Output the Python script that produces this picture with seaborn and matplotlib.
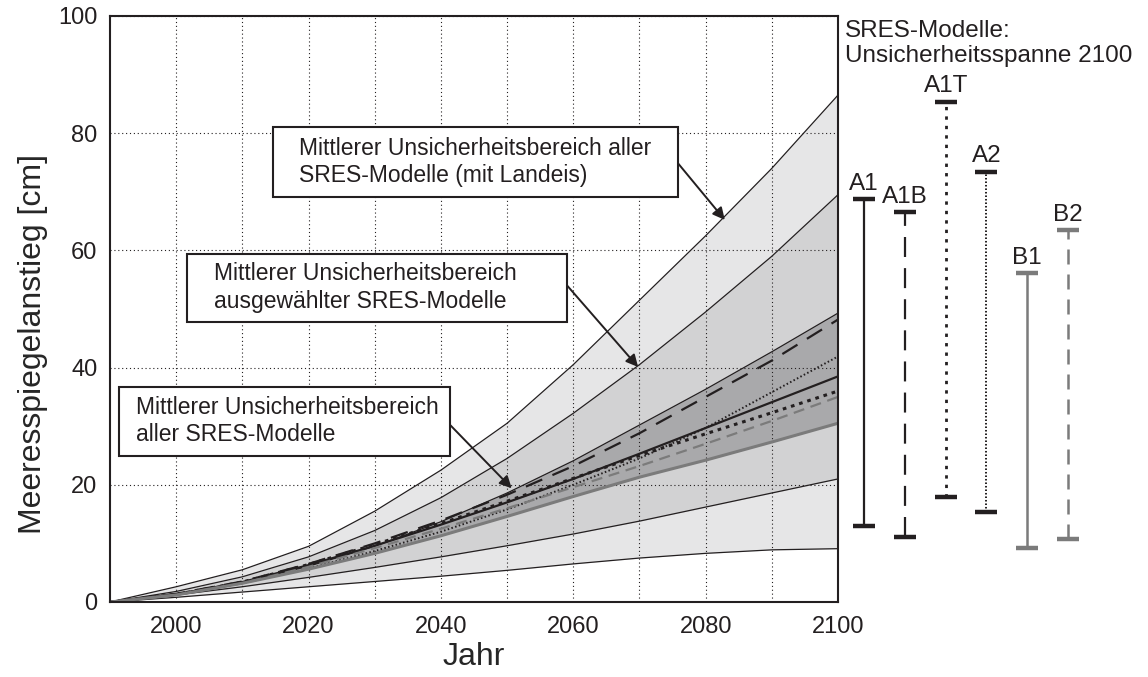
import matplotlib
matplotlib.use('Agg')
import matplotlib.pyplot as plt
import seaborn as sns
from matplotlib.patches import Rectangle

years = [1990, 2000, 2010, 2020, 2030, 2040, 2050, 2060, 2070, 2080, 2090, 2100]

# Baender (untere / obere Grenze)
landeis_lo = [0, 0.8, 1.7, 2.6, 3.5, 4.4, 5.4, 6.5, 7.5, 8.3, 8.9, 9.1]
landeis_hi = [0, 2.6, 5.5, 9.5, 15.5, 22.5, 30.5, 40.5, 51.5, 62.5, 74.0, 86.5]
auswahl_lo = [0, 1.2, 2.6, 4.2, 5.9, 7.7, 9.6, 11.6, 13.8, 16.2, 18.6, 21.0]
auswahl_hi = [0, 1.8, 4.3, 7.7, 12.2, 17.8, 24.5, 32.2, 40.5, 49.5, 59.0, 69.5]
alle_lo = [0, 1.2, 3.2, 5.6, 8.3, 11.3, 14.6, 18.0, 21.3, 24.2, 27.3, 30.5]
alle_hi = [0, 1.4, 3.4, 6.1, 9.5, 13.7, 18.6, 24.1, 30.2, 36.3, 42.7, 49.3]

# Einzelne Szenarien
a1 = [0, 1.3, 3.4, 6.3, 9.6, 13.2, 17.0, 21.0, 25.3, 29.7, 34.1, 38.5]
a1b = [0, 1.4, 3.5, 6.5, 10.0, 13.9, 18.3, 23.2, 28.8, 35.0, 41.2, 48.2]
a1t = [0, 1.3, 3.4, 6.4, 9.8, 13.4, 17.2, 21.1, 25.0, 28.7, 32.3, 36.0]
a2 = [0, 1.3, 3.2, 5.7, 8.7, 12.0, 15.8, 20.0, 24.5, 29.7, 35.8, 41.9]
b1 = alle_lo
b2 = [0, 1.2, 3.2, 6.0, 9.2, 12.5, 16.0, 19.6, 23.2, 27.0, 30.9, 35.0]

# Unsicherheitsspanne 2100
scenarios = ['A1', 'A1B', 'A1T', 'A2', 'B1', 'B2']
span_lo = [13.0, 11.1, 18.0, 15.4, 9.3, 10.8]
span_hi = [68.7, 66.5, 85.4, 73.4, 56.1, 63.4]

dark = '#231f20'
grey = '#7b7b7b'

sns.set_theme(style='white')
plt.rcParams['font.family'] = ['Liberation Sans', 'DejaVu Sans']
plt.rcParams['text.color'] = dark

fig = plt.figure(figsize=(11.48, 6.77), dpi=100)
ax = fig.add_axes([110 / 1148, 75 / 677, 728 / 1148, 586 / 677])

# Baender
ax.fill_between(years, landeis_lo, landeis_hi, color='#e6e6e7', lw=0, zorder=1)
ax.fill_between(years, auswahl_lo, auswahl_hi, color='#d2d2d3', lw=0, zorder=1.1)
ax.fill_between(years, alle_lo, alle_hi, color='#a9a9ab', lw=0, zorder=1.2)
for edge in [landeis_lo, landeis_hi, auswahl_lo, auswahl_hi, alle_hi]:
    sns.lineplot(x=years, y=edge, ax=ax, color=dark, lw=0.9, zorder=3)

# Szenarien
styles = {
    'A1': (a1, dark, '-', 1.6),
    'A1B': (a1b, dark, (0, (8, 5)), 1.6),
    'A1T': (a1t, dark, (0, (1.2, 1.6)), 2.2),
    'A2': (a2, dark, (0, (0.8, 1.2)), 1.4),
    'B1': (b1, grey, '-', 2.2),
    'B2': (b2, grey, (0, (5, 3)), 1.6),
}
for name, (vals, col, ls, lw) in styles.items():
    sns.lineplot(x=years, y=vals, ax=ax, color=col, linestyle=ls, lw=lw, zorder=4)

ax.set_xlim(1990, 2100)
ax.set_ylim(0, 100)
xt = list(range(2000, 2101, 10))
ax.set_xticks(xt)
ax.set_xticklabels([str(t) if t % 20 == 0 else '' for t in xt])
ax.set_yticks(range(0, 101, 20))
ax.grid(True, color=dark, linestyle=(0, (1, 2.5)), lw=0.8)
ax.set_axisbelow(False)
ax.tick_params(length=0, labelsize=17, colors=dark)
ax.tick_params(axis='x', pad=10)
ax.tick_params(axis='y', pad=9)
for sp in ax.spines.values():
    sp.set_visible(True)
    sp.set_color(dark)
    sp.set_linewidth(1.5)
    sp.set_zorder(6)
ax.set_xlabel('Jahr', fontsize=23)
ax.set_ylabel('Meeresspiegelanstieg [cm]', fontsize=23)
ax.xaxis.set_label_coords(0.5, -0.068)
ax.yaxis.set_label_coords(-0.085, 0.44)

# Beschriftungskaesten mit Pfeilen
arrow = dict(arrowstyle='-|>', color=dark, lw=1.4, mutation_scale=18, shrinkA=0, shrinkB=0)
boxes = [
    ('Mittlerer Unsicherheitsbereich aller\nSRES-Modelle (mit Landeis)',
     (2014.6, 69.1, 61.2, 12.0), (2018.5, 75.1), (2075.8, 74.9), (2082.9, 65.2)),
    ('Mittlerer Unsicherheitsbereich\nausgewählter SRES-Modelle',
     (2001.6, 47.8, 57.4, 11.6), (2005.7, 53.7), (2059.0, 54.1), (2069.8, 40.1)),
    ('Mittlerer Unsicherheitsbereich\naller SRES-Modelle',
     (1991.4, 24.9, 50.0, 11.8), (1993.9, 30.9), (2041.4, 30.2), (2050.7, 19.4)),
]
for txt, (bx, by, bw, bh), tpos, tail, head in boxes:
    ax.annotate('', xy=head, xytext=tail, arrowprops=arrow, zorder=7)
    ax.add_patch(Rectangle((bx, by), bw, bh, fc='white', ec=dark, lw=1.5, zorder=8))
    ax.text(tpos[0], tpos[1], txt, fontsize=16.5, ha='left', va='center', zorder=9,
            linespacing=1.25)

# Rechte Seite: Spannen 2100
ax2 = fig.add_axes([838 / 1148, 75 / 677, 310 / 1148, 586 / 677])
ax2.set_xlim(-0.64, 6.96)
ax2.set_ylim(0, 100)
ax2.axis('off')
bar_styles = [
    (dark, '-', 1.6),
    (dark, (0, (9, 5)), 1.6),
    (dark, (0, (1.2, 2.2)), 2.0),
    (dark, (0, (0.8, 1.0)), 1.4),
    (grey, '-', 1.8),
    (grey, (0, (6, 4)), 1.8),
]
for i, (name, lo, hi) in enumerate(zip(scenarios, span_lo, span_hi)):
    col, ls, lw = bar_styles[i]
    ax2.plot([i, i], [lo, hi], color=col, linestyle=ls, lw=lw)
    ax2.plot([i, i], [lo, hi], color=col, linestyle='none', marker='_', ms=16, mew=3.2)
    ax2.annotate(name, xy=(i, hi), xytext=(0, 7), textcoords='offset points',
                 ha='center', va='baseline', fontsize=17.5)

fig.text(845 / 1148, 1 - 20 / 677, 'SRES-Modelle:\nUnsicherheitsspanne 2100',
         ha='left', va='top', fontsize=17.5, linespacing=1.2)

fig.savefig('out.png', dpi=100)
